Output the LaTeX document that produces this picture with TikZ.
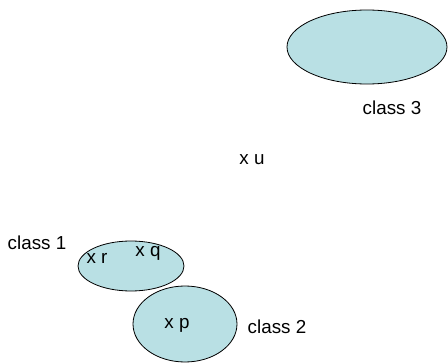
\documentclass[tikz,border=0pt]{standalone}
\usepackage{fontspec}
\setmainfont{Liberation Sans}
\usetikzlibrary{shapes.geometric}
\definecolor{clsfill}{RGB}{185,224,228}
\begin{document}
\begin{tikzpicture}[x=1pt,y=-1pt,
  cls/.style={draw=black,line width=0.8pt,fill=clsfill},
  lbl/.style={font=\fontsize{18.8}{21}\selectfont,inner sep=0pt}]
\useasboundingbox (0,0) rectangle (448,364);
% class regions
\draw[cls] (131,266) ellipse [x radius=53, y radius=25];
\draw[cls] (185,324) ellipse [x radius=52, y radius=38];
\draw[cls] (367,47) ellipse [x radius=80, y radius=37];
% labels and points
\node[lbl] (c1) at (37,243) {class 1};
\node[lbl] (c2) at (277,327) {class 2};
\node[lbl] (c3) at (392,108) {class 3};
\node[lbl] (xr) at (97,258) {x r};
\node[lbl] (xq) at (148,253) {x q};
\node[lbl] (xp) at (177,325) {x p};
\node[lbl] (xu) at (252,160) {x u};
\end{tikzpicture}
\end{document}
